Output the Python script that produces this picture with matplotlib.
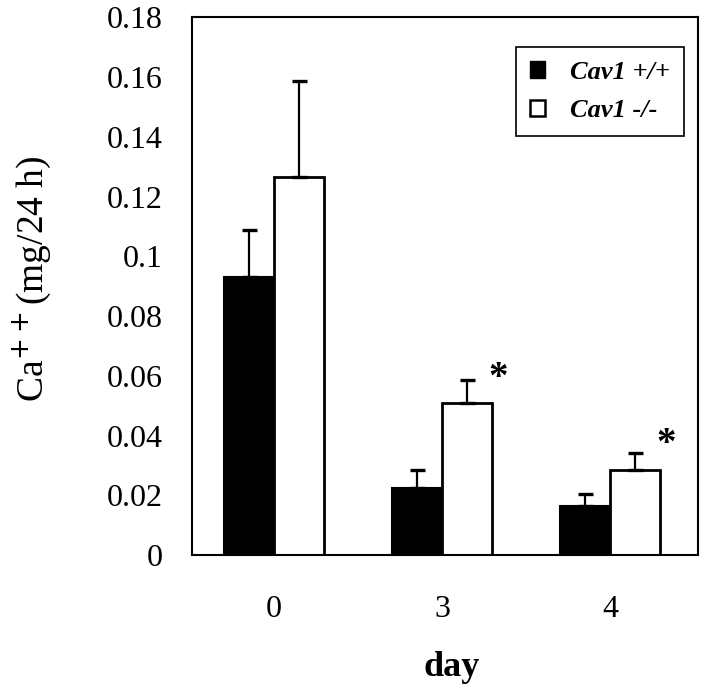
import numpy as np
from matplotlib import pyplot as plt
from matplotlib.patches import Patch

days = ['0', '3', '4']
wt_mean = [0.093, 0.0226, 0.0165]
wt_err = [0.0158, 0.0060, 0.0040]
ko_mean = [0.1265, 0.0508, 0.0284]
ko_err = [0.0323, 0.0079, 0.0057]
star_groups = [1, 2]
star_heights = [0.059, 0.037]

plt.rcParams['font.family'] = ['Liberation Serif', 'DejaVu Serif']

fig = plt.figure(figsize=(7.2, 6.88), dpi=100)
ax = fig.add_axes([0.267, 0.193, 0.702, 0.782])

x = np.arange(len(days))
w = 0.298
err_kw = dict(ecolor='black', elinewidth=1.6, capsize=5.4, capthick=2.4)
ax.bar(x - w / 2, wt_mean, w, color='black', edgecolor='black', linewidth=1.5,
       yerr=[np.zeros(3), wt_err], error_kw=err_kw, label='Cav1 +/+')
ax.bar(x + w / 2, ko_mean, w, color='white', edgecolor='black', linewidth=2,
       yerr=[np.zeros(3), ko_err], error_kw=err_kw, label='Cav1 -/-')

for g, h in zip(star_groups, star_heights):
    ax.text(g + 0.33, h, '*', ha='center', va='center', fontsize=28, fontweight='bold')

ax.set_xlim(-0.488, 2.52)
ax.set_ylim(0, 0.18)
ax.set_yticks(np.arange(0, 0.181, 0.02))
ax.set_yticklabels(['0', '0.02', '0.04', '0.06', '0.08', '0.1', '0.12', '0.14', '0.16', '0.18'])
ax.set_xticks(x)
ax.set_xticklabels(days)
ax.tick_params(axis='both', length=0, labelsize=23)
ax.tick_params(axis='y', pad=21)
ax.tick_params(axis='x', pad=29)
for s in ax.spines.values():
    s.set_linewidth(1.5)

# axis titles placed in figure coords
fig.text(452 / 720, 1 - 667 / 688, 'day', ha='center', va='center',
         fontsize=26, fontweight='bold')
fig.text(32 / 720, 1 - 279 / 688, 'Ca$^{++}$(mg/24 h)', ha='center', va='center',
         rotation=90, fontsize=27)

handles = [Patch(facecolor='black', edgecolor='black'),
           Patch(facecolor='white', edgecolor='black', linewidth=1.8)]
leg = ax.legend(handles, ['Cav1 +/+', 'Cav1 -/-'], loc='upper right',
                bbox_to_anchor=(0.972, 0.944), borderaxespad=0, fancybox=False,
                framealpha=1, edgecolor='black', handlelength=0.6, handleheight=0.6,
                handletextpad=0.95, borderpad=0.5, labelspacing=0.6,
                prop={'size': 19, 'style': 'italic', 'weight': 'bold'})
leg.get_frame().set_linewidth(1.2)

fig.savefig('out.png', dpi=100)
